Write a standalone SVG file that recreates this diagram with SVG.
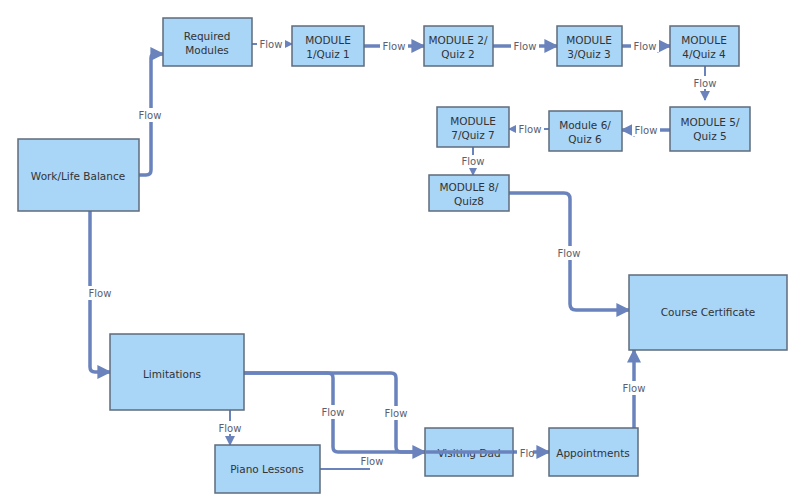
<svg xmlns="http://www.w3.org/2000/svg" width="800" height="502" viewBox="0 0 800 502">
<style>
.n rect{fill:#a9d5f7;stroke:#5f6b7c;stroke-width:1.5}
.n text{font-family:"DejaVu Sans",sans-serif;font-size:10.5px;fill:#333;text-anchor:middle}
.c path{fill:none;stroke:#6a83bd;stroke-width:3.5;stroke-linejoin:round}
.c path.t{stroke-width:2}
.l{font-family:"DejaVu Sans",sans-serif;font-size:10px;fill:#5a6070;text-anchor:middle}
.lb{fill:#fff}
</style>
<defs>
<marker id="a" viewBox="0 0 10 10" refX="9" refY="5" markerWidth="4" markerHeight="4" orient="auto" markerUnits="strokeWidth"><path d="M0,0L10,5L0,10z" fill="#6a83bd"/></marker>
<marker id="b" viewBox="0 0 10 10" refX="9" refY="5" markerWidth="5" markerHeight="5" orient="auto" markerUnits="strokeWidth"><path d="M0,0L10,5L0,10z" fill="#6a83bd"/></marker>
</defs>
<rect width="800" height="502" fill="#fff"/>
<g id="connectors" class="c">
<path d="M139,175 H146 Q151,175 151,170 V58 Q151,54 155,54 H163" marker-end="url(#a)"/>
<path d="M90,211 V367 Q90,372 95,372 H110" marker-end="url(#a)"/>
<path class="t" d="M252,44 H292" marker-end="url(#b)"/>
<path d="M364,46 H424" marker-end="url(#a)"/>
<path d="M493,46 H557" marker-end="url(#a)"/>
<path d="M622,46 H670" marker-end="url(#a)"/>
<path class="t" d="M705,66 V100" marker-end="url(#b)"/>
<path d="M670,130 H622" marker-end="url(#a)"/>
<path class="t" d="M549,129 H509" marker-end="url(#b)"/>
<path class="t" d="M473,147 V175" marker-end="url(#b)"/>
<path d="M509,193 H564 Q570,193 570,199 V304 Q570,310 576,310 H629" marker-end="url(#a)"/>
<path d="M244,373 H328 Q333,373 333,378 V447 Q333,452 338,452 H425" marker-end="url(#a)"/>
<path d="M244,373 H391 Q396,373 396,378 V447 Q396,452 401,452 H425"/>
<path d="M425,452 H549" marker-end="url(#a)"/>
<path class="t" d="M230,410 V445" marker-end="url(#b)"/>
<path class="t" d="M320,469 H370"/>
<path d="M634,428 V350" marker-end="url(#a)"/>
</g>
<g id="labels">
<rect class="lb" x="136" y="108" width="28" height="14"/><text class="l" x="150" y="119">Flow</text>
<rect class="lb" x="86" y="286" width="28" height="14"/><text class="l" x="100" y="297">Flow</text>
<rect class="lb" x="257" y="38" width="28" height="13"/><text class="l" x="271" y="48">Flow</text>
<rect class="lb" x="380" y="39" width="28" height="13"/><text class="l" x="394" y="50">Flow</text>
<rect class="lb" x="511" y="39" width="28" height="13"/><text class="l" x="525" y="50">Flow</text>
<rect class="lb" x="631" y="39" width="28" height="13"/><text class="l" x="645" y="50">Flow</text>
<rect class="lb" x="691" y="76" width="28" height="13"/><text class="l" x="705" y="87">Flow</text>
<rect class="lb" x="632" y="123" width="28" height="13"/><text class="l" x="646" y="134">Flow</text>
<rect class="lb" x="516" y="123" width="28" height="13"/><text class="l" x="530" y="133">Flow</text>
<rect class="lb" x="459" y="155" width="28" height="13"/><text class="l" x="473" y="165">Flow</text>
<rect class="lb" x="555" y="246" width="28" height="14"/><text class="l" x="569" y="257">Flow</text>
<rect class="lb" x="319" y="405" width="28" height="14"/><text class="l" x="333" y="416">Flow</text>
<rect class="lb" x="382" y="406" width="28" height="14"/><text class="l" x="396" y="417">Flow</text>
<rect class="lb" x="216" y="421" width="28" height="13"/><text class="l" x="230" y="432">Flow</text>
<text class="l" x="372" y="465">Flow</text>
<rect class="lb" x="517" y="446" width="16" height="13"/><text class="l" x="527" y="457">Flo</text>
<rect class="lb" x="620" y="381" width="28" height="14"/><text class="l" x="634" y="392">Flow</text>
</g>
<g id="wlb" class="n"><rect x="18" y="139" width="121" height="72"/><text x="78" y="180">Work/Life Balance</text></g>
<g id="rm" class="n"><rect x="163" y="18" width="89" height="48"/><text x="207" y="40">Required</text><text x="207" y="54">Modules</text></g>
<g id="m1" class="n"><rect x="292" y="26" width="72" height="40"/><text x="328" y="44">MODULE</text><text x="328" y="58">1/Quiz 1</text></g>
<g id="m2" class="n"><rect x="424" y="26" width="69" height="40"/><text x="458" y="44">MODULE 2/</text><text x="458" y="58">Quiz 2</text></g>
<g id="m3" class="n"><rect x="557" y="26" width="65" height="40"/><text x="589" y="44">MODULE</text><text x="589" y="58">3/Quiz 3</text></g>
<g id="m4" class="n"><rect x="670" y="26" width="69" height="40"/><text x="704" y="44">MODULE</text><text x="704" y="58">4/Quiz 4</text></g>
<g id="m5" class="n"><rect x="670" y="107" width="80" height="44"/><text x="710" y="126">MODULE 5/</text><text x="710" y="140">Quiz 5</text></g>
<g id="m6" class="n"><rect x="549" y="111" width="73" height="40"/><text x="585" y="129">Module 6/</text><text x="585" y="143">Quiz 6</text></g>
<g id="m7" class="n"><rect x="437" y="107" width="72" height="40"/><text x="473" y="125">MODULE</text><text x="473" y="139">7/Quiz 7</text></g>
<g id="m8" class="n"><rect x="429" y="175" width="80" height="36"/><text x="469" y="191">MODULE 8/</text><text x="469" y="205">Quiz8</text></g>
<g id="cert" class="n"><rect x="629" y="275" width="158" height="75"/><text x="708" y="316">Course Certificate</text></g>
<g id="lim" class="n"><rect x="110" y="334" width="134" height="76"/><text x="172" y="378">Limitations</text></g>
<g id="piano" class="n"><rect x="215" y="445" width="105" height="48"/><text x="267" y="473">Piano Lessons</text></g>
<g id="dad" class="n"><rect x="425" y="428" width="88" height="48"/><text x="469" y="457">Visiting Dad</text></g>
<g id="appt" class="n"><rect x="549" y="428" width="89" height="48"/><text x="593" y="457">Appointments</text></g>
<g id="overlay" class="c"><path d="M425,452 H513"/></g>
</svg>
